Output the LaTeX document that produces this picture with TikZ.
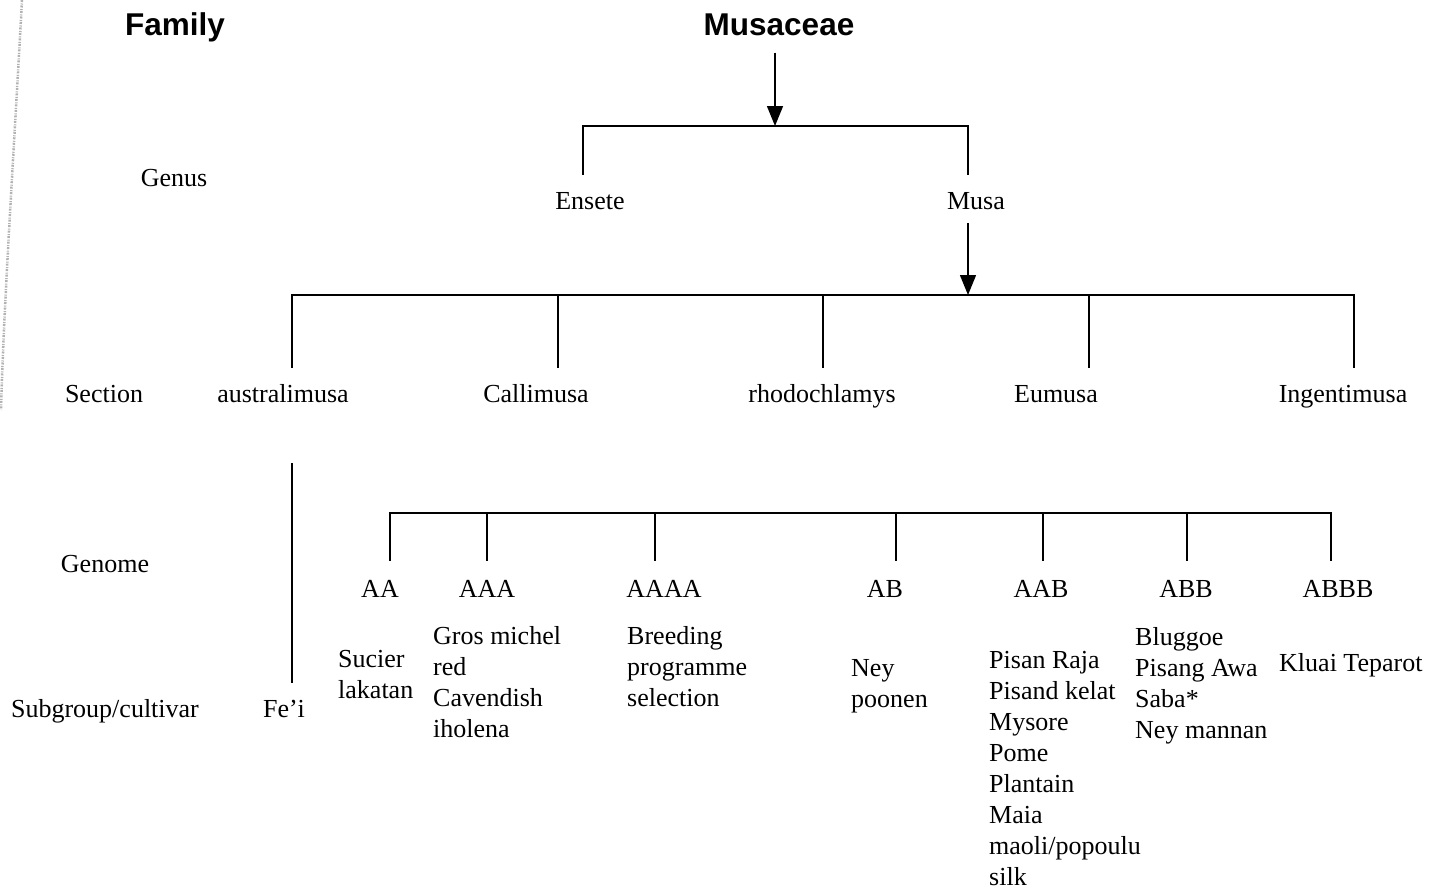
\documentclass[tikz,border=0pt]{standalone}
\usepackage{fontspec}
\setmainfont{Liberation Serif}
\newfontfamily\headfont{Liberation Sans}
\usetikzlibrary{arrows.meta,calc}
\tikzset{
  lbl/.style={font=\fontsize{26}{31}\selectfont, inner sep=0pt, anchor=base, text height=18pt, text depth=5.7pt},
  head/.style={font=\headfont\bfseries\fontsize{31.5}{38}\selectfont, inner sep=0pt, anchor=base},
  grp/.style={font=\fontsize{26}{31}\selectfont, inner sep=0pt, anchor=north west, align=left},
  ln/.style={line width=1.4pt, line cap=rect},
  arr/.style={line width=1.4pt, -{Triangle[width=16pt,length=20pt]}},
  scanedge/.style={gray!60, line width=2.5pt, dash pattern=on 2pt off 1.5pt on 1pt off 1pt},
}
\begin{document}
\begin{tikzpicture}[x=1pt,y=-1pt]
\useasboundingbox (0,0) rectangle (1442,889);
% scan edge
\draw[scanedge] (22,0) .. controls (14,150) and (4,300) .. (1,410);

% level labels
\node[head] (family) at (175,35) {Family};
\node[lbl] (genus) at (174,186) {Genus};
\node[lbl] (section) at (104,402) {Section};
\node[lbl] (genome) at (105,572) {Genome};
\node[lbl] (subgroup) at (105,717) {Subgroup/cultivar};

% family
\node[head] (musaceae) at (779,35) {Musaceae};

% genus
\coordinate (gL) at (583,126);
\coordinate (gM) at (775,126);
\coordinate (gR) at (968,126);
\node[lbl] (ensete) at (590,209) {Ensete};
\node[lbl] (musa) at (976,209) {Musa};
\draw[arr] ($(musaceae.south -| gM)+(0,17)$) -- (gM);
\draw[ln] (gL) -- (gR);
\draw[ln, shorten >=17pt] (gL) -- (ensete.north -| gL);
\draw[ln, shorten >=17pt] (gR) -- (musa.north -| gR);

% section
\coordinate (s1) at (292,295);
\coordinate (s2) at (558,295);
\coordinate (s3) at (823,295);
\coordinate (sM) at (968,295);
\coordinate (s4) at (1089,295);
\coordinate (s5) at (1354,295);
\node[lbl] (australimusa) at (283,402) {australimusa};
\node[lbl] (callimusa) at (536,402) {Callimusa};
\node[lbl] (rhodochlamys) at (822,402) {rhodochlamys};
\node[lbl] (eumusa) at (1056,402) {Eumusa};
\node[lbl] (ingentimusa) at (1343,402) {Ingentimusa};
\draw[arr] ($(musa.south -| sM)+(0,8)$) -- (sM);
\draw[ln] (s1) -- (s5);
\draw[ln, shorten >=17pt] (s1) -- (australimusa.north -| s1);
\draw[ln, shorten >=17pt] (s2) -- (callimusa.north -| s2);
\draw[ln, shorten >=17pt] (s3) -- (rhodochlamys.north -| s3);
\draw[ln, shorten >=17pt] (s4) -- (eumusa.north -| s4);
\draw[ln, shorten >=17pt] (s5) -- (ingentimusa.north -| s5);

% australimusa -> Fe'i
\node[lbl] (fei) at (284,717) {Fe'i};
\draw[ln, shorten <=56pt, shorten >=17pt] (australimusa.south -| s1) -- (fei.north -| s1);

% genome
\coordinate (e1) at (390,513);
\coordinate (e2) at (487,513);
\coordinate (e3) at (655,513);
\coordinate (e4) at (896,513);
\coordinate (e5) at (1043,513);
\coordinate (e6) at (1187,513);
\coordinate (e7) at (1331,513);
\node[lbl] (aa) at (380,597) {AA};
\node[lbl] (aaa) at (487,597) {AAA};
\node[lbl] (aaaa) at (664,597) {AAAA};
\node[lbl] (ab) at (885,597) {AB};
\node[lbl] (aab) at (1041,597) {AAB};
\node[lbl] (abb) at (1186,597) {ABB};
\node[lbl] (abbb) at (1338,597) {ABBB};
\draw[ln] (e1) -- (e7);
\draw[ln, shorten >=19pt] (e1) -- (aa.north -| e1);
\draw[ln, shorten >=19pt] (e2) -- (aaa.north -| e2);
\draw[ln, shorten >=19pt] (e3) -- (aaaa.north -| e3);
\draw[ln, shorten >=19pt] (e4) -- (ab.north -| e4);
\draw[ln, shorten >=19pt] (e5) -- (aab.north -| e5);
\draw[ln, shorten >=19pt] (e6) -- (abb.north -| e6);
\draw[ln, shorten >=19pt] (e7) -- (abbb.north -| e7);

% subgroups / cultivars
\node[grp] (c-aa) at (338,650) {Sucier\\lakatan};
\node[grp] (c-aaa) at (433,626) {Gros michel\\red\\Cavendish\\iholena};
\node[grp] (c-aaaa) at (627,626) {Breeding\\programme\\selection};
\node[grp] (c-ab) at (851,659) {Ney\\poonen};
\node[grp] (c-aab) at (989,651) {Pisan Raja\\Pisand kelat\\Mysore\\Pome\\Plantain\\Maia\\maoli/popoulu\\silk};
\node[grp] (c-abb) at (1135,627) {Bluggoe\\Pisang Awa\\Saba*\\Ney mannan};
\node[grp] (c-abbb) at (1279,653) {Kluai Teparot};
\end{tikzpicture}
\end{document}
